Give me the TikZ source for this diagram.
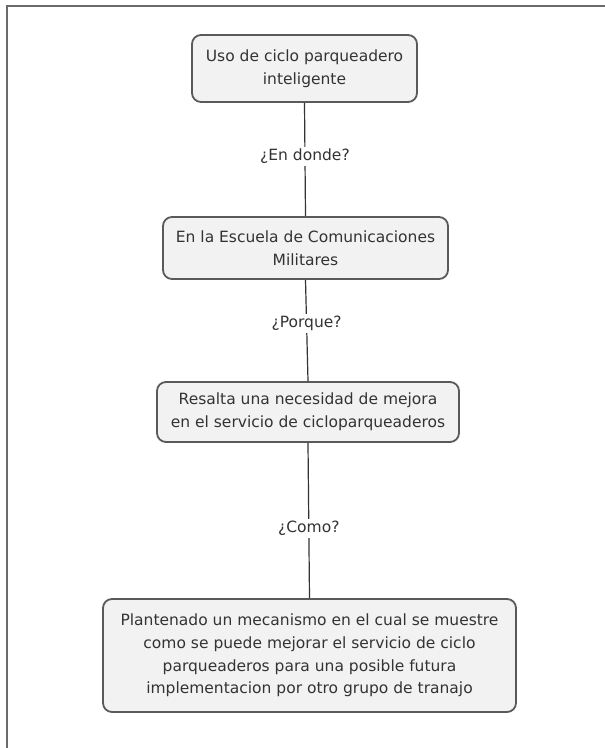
\documentclass[tikz,border=0pt]{standalone}
\usepackage{fontspec}
\setmainfont{DejaVu Sans}
\definecolor{boxfill}{HTML}{F2F2F2}
\definecolor{boxline}{HTML}{5A5A5A}
\definecolor{txt}{HTML}{333333}
\definecolor{frameline}{HTML}{6A6A6A}
\begin{document}
\begin{tikzpicture}[x=1pt,y=-1pt,
  box/.style={draw=boxline, line width=1.8pt, fill=boxfill, rounded corners=9pt,
    align=center, text=txt, inner sep=0pt,
    font=\fontsize{15.5}{22.7}\selectfont},
  lbl/.style={fill=white, text=txt, inner sep=2pt, font=\fontsize{15.5}{18}\selectfont},
  conn/.style={draw=txt, line width=1.2pt},
  frame/.style={draw=frameline, line width=2pt}]
\useasboundingbox (0,0) rectangle (605,748);
\draw[frame] (7,748) -- (7,6) -- (605,6);
\node[box, minimum width=225pt, minimum height=67pt] (n1) at (304.5,68.5)
  {Uso de ciclo parqueadero\\inteligente};
\node[box, minimum width=285pt, minimum height=62pt] (n2) at (305.5,248)
  {En la Escuela de Comunicaciones\\Militares};
\node[box, minimum width=302pt, minimum height=60pt] (n3) at (308,412)
  {Resalta una necesidad de mejora\\en el servicio de cicloparqueaderos};
\node[box, minimum width=413pt, minimum height=113pt] (n4) at (309.5,655.5)
  {Plantenado un mecanismo en el cual se muestre\\como se puede mejorar el servicio de ciclo\\parqueaderos para una posible futura\\implementacion por otro grupo de tranajo};
\draw[conn] (n1.south) -- (n2.north) node[lbl, pos=0.47] (l1) {¿En donde?};
\draw[conn] (n2.south) -- (n3.north) node[lbl, pos=0.43] (l2) {¿Porque?};
\draw[conn] (n3.south) -- (n4.north) node[lbl, pos=0.55] (l3) {¿Como?};
\end{tikzpicture}
\end{document}
